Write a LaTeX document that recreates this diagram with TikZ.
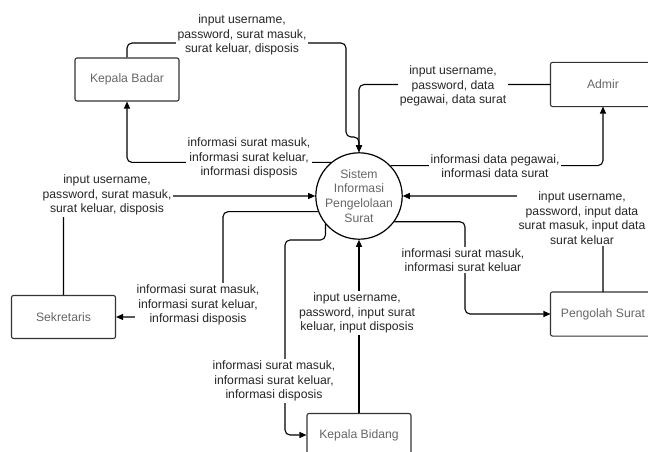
\documentclass[tikz,border=0pt]{standalone}
\usepackage{fontspec}
\setmainfont{Liberation Sans}
\usetikzlibrary{arrows.meta}

\tikzset{
        entitas/.style={draw=black!80,line width=1.1pt,rounded corners=2pt,minimum width=104pt,minimum height=43pt,text=black!60,font=\fontsize{12.2}{14.5}\selectfont},
        entitaskanan/.style={entitas,draw=none},
        tepi/.style={draw=black!80,line width=1.1pt,rounded corners=2pt},
        proses/.style={circle,draw,line width=1.2pt,minimum size=84pt,inner sep=0pt,align=center,text=black!60,font=\fontsize{12.2}{14.8}\selectfont},
        alir/.style={draw,line width=1.1pt,rounded corners=5pt,-{Triangle[length=7pt,width=6pt]}},
        ket/.style={fill=white,align=center,inner sep=1.5pt,text=black!85,font=\fontsize{12.2}{14.5}\selectfont}
}

\begin{document}
\begin{tikzpicture}[x=1pt,y=-1pt]
        \useasboundingbox (0,0) rectangle (648,452);
        \clip (0,0) rectangle (648,452);

        \node[proses] (sis) at (359,196) {Sistem\\Informasi\\Pengelolaan\\Surat};
        \node[entitas] (kbadan) at (127,79.5) {Kepala Badar};
        \node[entitaskanan] (admin) at (603,84.5) {Admir};
        \node[entitas] (sek) at (63.5,317) {Sekretaris};
        \node[entitaskanan] (peng) at (603,314) {Pengolah Surat};
        \node[entitas] (kbidang) at (359,435) {Kepala Bidang};
        \draw[tepi] (admin.north east) -- (admin.north west) -- (admin.south west) -- (admin.south east);
        \draw[tepi] (peng.north east) -- (peng.north west) -- (peng.south west) -- (peng.south east);

        \coordinate (aT) at (346,43);
        \coordinate (aM) at (359,137);
        \coordinate (eT) at (223,317);
        \coordinate (fT) at (285,240);
        \coordinate (hT) at (465,267);

        \draw[alir] (kbadan.north) |- (aT) |- (aM) -- (sis.north);
        \draw[alir] (admin.west) -| (sis.north);
        \draw[alir] (sis.130) -| (kbadan.south);
        \draw[alir] (sek.north) |- (sis.west);
        \draw[alir] (sis.201) -| (eT) -- (sek.east);
        \draw[alir] (sis.220) |- (fT) |- (kbidang.west);
        \draw[alir] (kbidang.north) -- (sis.south);
        \draw[alir] (sis.-36) -| (hT) |- (peng.west);
        \draw[alir] (peng.north) |- (sis.east);
        \draw[alir] (sis.44) -| (admin.south);

        \node[ket] (lA) at (242,35) {input username,\\password, surat masuk,\\surat keluar, disposis};
        \node[ket] (lB) at (453,86) {input username,\\password, data\\pegawai, data surat};
        \node[ket] (lC) at (249,158) {informasi surat masuk,\\informasi surat keluar,\\informasi disposis};
        \node[ket] (lD) at (107,195) {input username,\\password, surat masuk,\\surat keluar, disposis};
        \node[ket] (lE) at (198,305) {informasi surat masuk,\\informasi surat keluar,\\informasi disposis};
        \node[ket] (lF) at (274,381) {informasi surat masuk,\\informasi surat keluar,\\informasi disposis};
        \node[ket] (lG) at (357,313) {input username,\\password, input surat\\keluar, input disposis};
        \node[ket] (lH) at (463,260) {informasi surat masuk,\\informasi surat keluar};
        \node[ket] (lI) at (582,218) {input username,\\password, input data\\surat masuk, input data\\surat keluar};
        \node[ket] (lJ) at (495,166) {informasi data pegawai,\\informasi data surat};
      \end{tikzpicture}
\end{document}
